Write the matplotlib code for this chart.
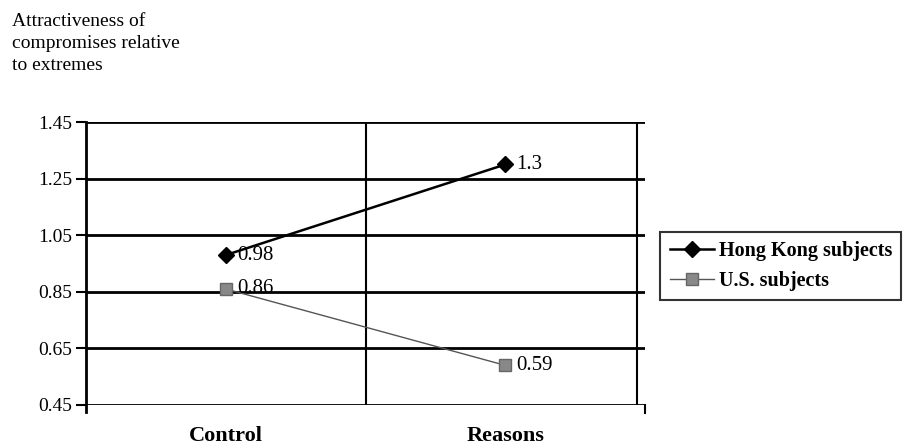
import numpy as np
import matplotlib.pyplot as plt

# data
categories = ['Control', 'Reasons']
hong_kong = [0.98, 1.30]
us_subjects = [0.86, 0.59]
y_ticks = [0.45, 0.65, 0.85, 1.05, 1.25, 1.45]

plt.rcParams['font.family'] = ['Liberation Serif', 'DejaVu Serif']

fig = plt.figure(figsize=(9.06, 4.47), dpi=100)
ax = fig.add_axes([0.095, 0.094, 0.617, 0.633])

x = np.arange(len(categories))
ax.set_xlim(-0.5, len(categories) - 0.5)
ax.set_ylim(y_ticks[0], y_ticks[-1])

# horizontal grid lines and category dividers
for yv in y_ticks:
    ax.axhline(yv, color='black', linewidth=2, zorder=1)
ax.axvline(0.5, color='black', linewidth=1.5, zorder=1)
ax.axvline(len(categories) - 0.53, color='black', linewidth=1.5, zorder=1)
ax.plot([len(categories) - 0.5] * 2, [y_ticks[0] - 0.03, y_ticks[0]],
        color='black', linewidth=1.5, clip_on=False)

ax.plot(x, hong_kong, color='black', linewidth=1.8, marker='D', markersize=8,
        markerfacecolor='black', markeredgecolor='black', zorder=5,
        label='Hong Kong subjects')
ax.plot(x, us_subjects, color='#555555', linewidth=1.0, marker='s', markersize=9,
        markerfacecolor='#888888', markeredgecolor='#666666', zorder=4,
        label='U.S. subjects')

for xi, v in zip(x, hong_kong):
    ax.annotate(f'{v:g}', (xi, v), xytext=(8, 0), textcoords='offset points',
                va='center', ha='left', fontsize=15, zorder=6)
for xi, v in zip(x, us_subjects):
    ax.annotate(f'{v:g}', (xi, v), xytext=(8, 0), textcoords='offset points',
                va='center', ha='left', fontsize=15, zorder=6)

ax.set_yticks(y_ticks)
ax.set_yticklabels([f'{t:.2f}' for t in y_ticks], fontsize=14)
ax.set_xticks(x)
ax.set_xticklabels(categories, fontsize=16, fontweight='bold')
ax.tick_params(axis='x', length=0, pad=15)
ax.tick_params(axis='y', direction='out', length=7, width=1.5, pad=3)

for side in ['top', 'right', 'bottom']:
    ax.spines[side].set_visible(False)
ax.spines['left'].set_linewidth(2)
ax.spines['left'].set_bounds(y_ticks[0] - 0.025, y_ticks[-1])

fig.text(0.013, 0.972, 'Attractiveness of\ncompromises relative\nto extremes',
         ha='left', va='top', fontsize=14, linespacing=1.4)

leg = fig.legend(loc='upper left', bbox_to_anchor=(0.729, 0.482),
                 prop={'weight': 'bold', 'size': 14.5}, frameon=True,
                 fancybox=False, edgecolor='black', handlelength=2.2,
                 handletextpad=0.25, borderpad=0.45, labelspacing=0.5,
                 borderaxespad=0)
leg.get_frame().set_linewidth(1.5)

fig.savefig('out.png', dpi=100)
